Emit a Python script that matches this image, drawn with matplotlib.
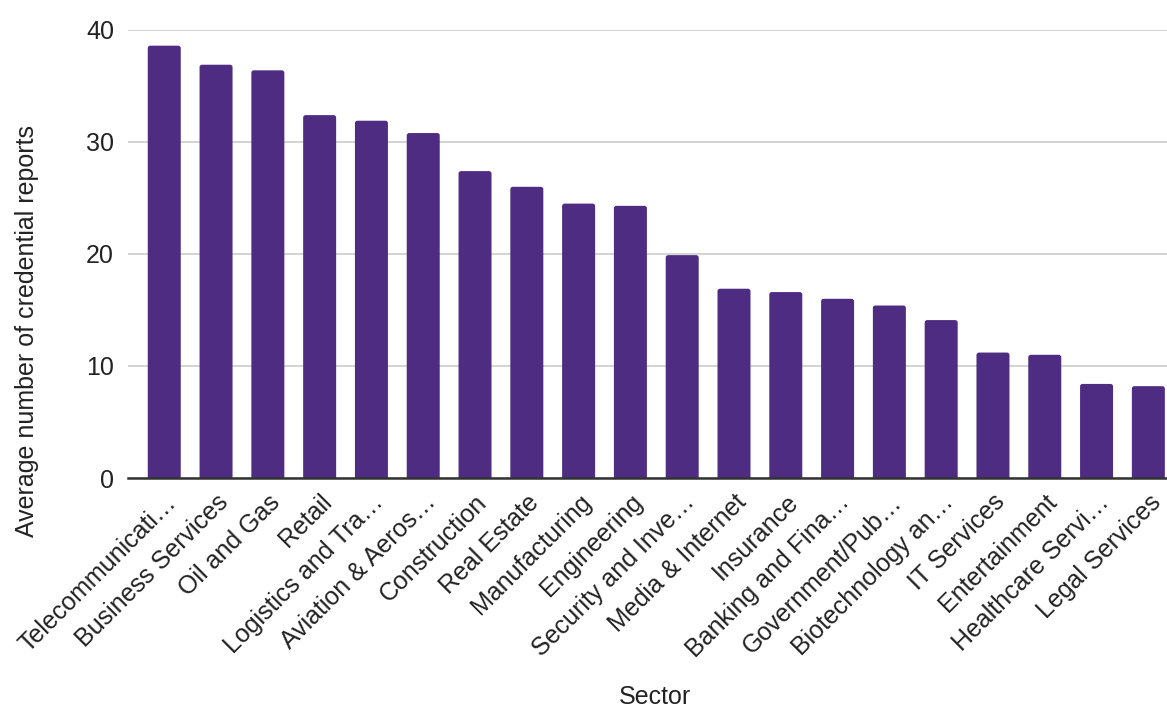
import matplotlib
matplotlib.use("Agg")

import matplotlib.pyplot as plt
import matplotlib.transforms as mtransforms
from matplotlib.patches import FancyBboxPatch

plt.rcParams["font.family"] = ["Liberation Sans", "DejaVu Sans"]

sectors = [
    "Telecommunicati…", "Business Services", "Oil and Gas", "Retail",
    "Logistics and Tra…", "Aviation & Aeros…", "Construction", "Real Estate",
    "Manufacturing", "Engineering", "Security and Inve…", "Media & Internet",
    "Insurance", "Banking and Fina…", "Government/Pub…", "Biotechnology an…",
    "IT Services", "Entertainment", "Healthcare Servi…", "Legal Services",
]
avg_reports = [
    38.6, 36.9, 36.4, 32.4, 31.9, 30.8, 27.4, 26.0,
    24.5, 24.3, 19.9, 16.9, 16.6, 16.0, 15.4, 14.1,
    11.2, 11.0, 8.4, 8.2,
]
y_ticks = [0, 10, 20, 30, 40]

BAR_COLOR = "#4e2c82"
TEXT_COLOR = "#222222"
FONT_SIZE = 18

W, H = 1167, 709
fig = plt.figure(figsize=(W / 100, H / 100), dpi=100)
ax = fig.add_axes([128 / W, 1 - 478 / H, (W - 128) / W, (478 - 30) / H])

x = list(range(len(sectors)))
bars = ax.bar(x, avg_reports, width=0.637, color=BAR_COLOR, zorder=3)

ax.set_xlim(-0.70, len(sectors) - 1 + 0.36)
ax.set_ylim(0, 40)

# swap the square bars for ones with slightly rounded tops; the bottom
# corners sit below zero and get clipped by the axes
px_x = (W - 128) / (ax.get_xlim()[1] - ax.get_xlim()[0])
px_y = (478 - 30) / 40
radius_x = 2.5 / px_x
for rect in bars:
    rect.set_visible(False)
    bx, bw, bh = rect.get_x(), rect.get_width(), rect.get_height()
    ax.add_patch(FancyBboxPatch(
        (bx, -1), bw, bh + 1,
        boxstyle=f"round,pad=0,rounding_size={radius_x}",
        mutation_aspect=px_x / px_y,
        facecolor=BAR_COLOR, edgecolor="none", zorder=3,
    ))

ax.set_yticks(y_ticks)
ax.set_yticklabels([str(v) for v in y_ticks], fontsize=FONT_SIZE, color=TEXT_COLOR)
ax.yaxis.grid(True, color="#cccccc", linewidth=1.2, zorder=0)
ax.tick_params(axis="y", length=0, pad=10)
ax.tick_params(axis="x", length=0, pad=0)

for side in ("top", "right", "left"):
    ax.spines[side].set_visible(False)
ax.spines["bottom"].set_color("#333333")
ax.spines["bottom"].set_linewidth(1.8)
ax.spines["bottom"].set_zorder(4)

ax.set_xticks(x)
ax.set_xticklabels(sectors, fontsize=FONT_SIZE, color=TEXT_COLOR)
shift = mtransforms.ScaledTranslation(0, -12 / 100, fig.dpi_scale_trans)
for lbl in ax.get_xticklabels():
    lbl.set_rotation(45)
    lbl.set_ha("right")
    lbl.set_va("top")
    lbl.set_rotation_mode("anchor")
    lbl.set_transform(lbl.get_transform() + shift)

fig.text(27 / W, 1 - 331 / H, "Average number of credential reports",
         rotation=90, ha="center", va="center", fontsize=FONT_SIZE, color=TEXT_COLOR)
fig.text(655 / W, 1 - 697 / H, "Sector", ha="center", va="center",
         fontsize=FONT_SIZE, color=TEXT_COLOR)

fig.savefig("out.png", dpi=100)
plt.close(fig)
